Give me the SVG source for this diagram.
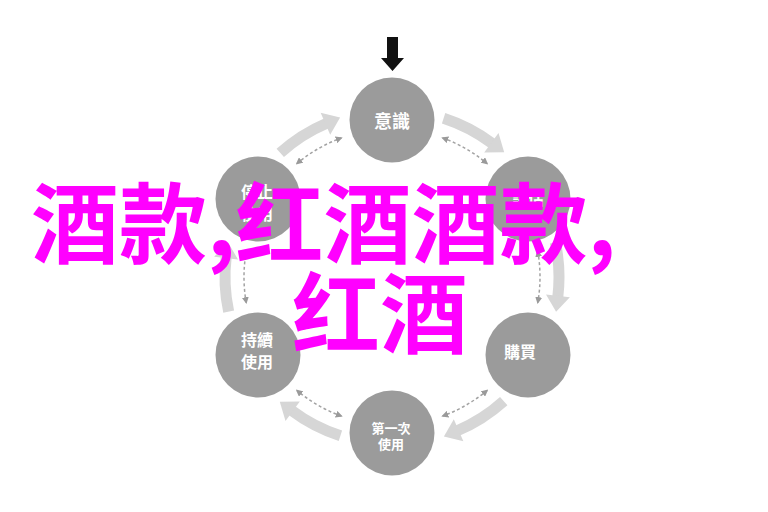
<svg xmlns="http://www.w3.org/2000/svg" width="768" height="512" viewBox="0 0 768 512">
  <defs>
    <style>
      .node circle { fill: #9b9b9b; }
      .lbl { fill: #ffffff; font-family: "Noto Sans CJK TC", "Noto Sans CJK SC", sans-serif; font-weight: bold; text-anchor: middle; }
      .big { fill: none; stroke: #d6d6d6; stroke-width: 11; }
      .bighead { fill: #d6d6d6; }
      .dash { fill: none; stroke: #a3a3a3; stroke-width: 1.5; stroke-dasharray: 3 2.5; marker-start: url(#dh); marker-end: url(#dh); }
      .wm { fill: #ff00ff; font-family: "Noto Sans CJK SC", sans-serif; font-weight: bold; font-size: 88px; }
    </style>
    <marker id="dh" viewBox="0 0 10 10" refX="8" refY="5" markerWidth="7" markerHeight="7" markerUnits="userSpaceOnUse" orient="auto-start-reverse">
      <path d="M0,0 L10,5 L0,10 Z" fill="#9a9a9a"/>
    </marker>
    <g id="cyc">
      <path class="big" d="M443.6,118.2 A167,167 0 0 1 492.5,143.6"/>
      <polygon class="bighead" points="484.2,152.4 498.5,133.1 504.2,152.3"/>
      <path class="dash" d="M442.6,137.9 A148,148 0 0 1 487.1,163.6"/>
    </g>
  </defs>
  <rect width="768" height="512" fill="#ffffff"/>
  <g id="connectors">
    <use href="#cyc"/>
    <use href="#cyc" transform="rotate(60 392 277)"/>
    <use href="#cyc" transform="rotate(120 392 277)"/>
    <use href="#cyc" transform="rotate(180 392 277)"/>
    <use href="#cyc" transform="rotate(240 392 277)"/>
    <use href="#cyc" transform="rotate(300 392 277)"/>
    <path id="entry" d="M387,37 H398 V58 H404 L392.5,71 L381,58 H387 Z" fill="#111111"/>
  </g>
  <g id="n-awareness" class="node">
    <circle cx="392" cy="120" r="42.5"/>
    <text class="lbl" x="392" y="128" font-size="18">意識</text>
  </g>
  <g id="n-consider" class="node">
    <circle cx="528" cy="199" r="42.5"/>
    <text class="lbl" x="528" y="205" font-size="16">評估</text>
  </g>
  <g id="n-purchase" class="node">
    <circle cx="528" cy="355" r="42.5"/>
    <text class="lbl" x="520" y="358" font-size="16">購買</text>
  </g>
  <g id="n-first" class="node">
    <circle cx="392" cy="433" r="42.5"/>
    <text class="lbl" x="391" y="433" font-size="13">第一次</text>
    <text class="lbl" x="391" y="449" font-size="13">使用</text>
  </g>
  <g id="n-continue" class="node">
    <circle cx="258" cy="355" r="42.5"/>
    <text class="lbl" x="257" y="346" font-size="16">持續</text>
    <text class="lbl" x="257" y="368" font-size="16">使用</text>
  </g>
  <g id="n-stop" class="node">
    <circle cx="258" cy="199" r="42.5"/>
    <text class="lbl" x="257" y="198" font-size="16">停止</text>
    <text class="lbl" x="257" y="220" font-size="16">使用</text>
  </g>
  <g id="watermark">
    <text class="wm" x="31" y="256">酒款,红酒酒款,</text>
    <text class="wm" x="292" y="346">红酒</text>
  </g>
</svg>
